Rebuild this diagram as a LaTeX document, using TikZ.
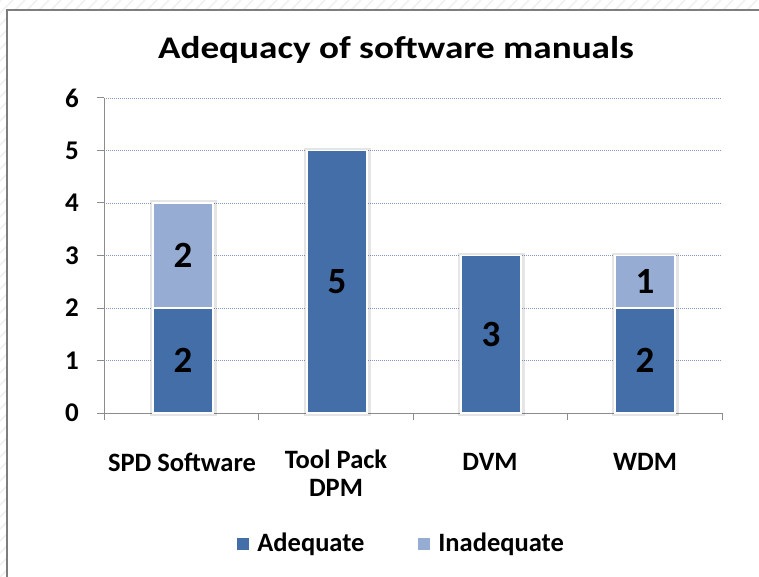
\documentclass[tikz,border=0pt]{standalone}
\usepackage{fontspec}
\setmainfont{Carlito}
\usetikzlibrary{positioning}

\definecolor{adqBlue}{RGB}{67,110,168}
\definecolor{inadqBlue}{RGB}{150,172,211}
\definecolor{gridBlue}{RGB}{135,155,200}
\definecolor{axisGray}{RGB}{140,140,140}
\definecolor{frameGray}{RGB}{125,125,125}

\tikzset{
  seg/.style={rectangle, draw=white, line width=1.5pt, minimum width=60pt, inner sep=0pt,
    font=\fontsize{37}{37}\selectfont\bfseries, text=black},
  adq/.style={seg, fill=adqBlue},
  inadq/.style={seg, fill=inadqBlue},
  barshadow/.style={fill=black, opacity=0.10},
  ylab/.style={font=\fontsize{27}{27}\selectfont\bfseries, inner sep=0pt},
  catlab/.style={font=\fontsize{26.5}{28}\selectfont\bfseries, align=center, inner sep=0pt},
  legsq/.style={rectangle, minimum width=12pt, minimum height=12pt, inner sep=0pt}
}

\begin{document}
\begin{tikzpicture}[x=1pt, y=-1pt]
  \useasboundingbox (0,0) rectangle (759,577);
  \fill[white] (0,0) rectangle (759,577);

  % hatched margin and frame
  \begin{scope}
    \clip (0,0) rectangle (759,9) (0,0) rectangle (6,577);
    \foreach \k in {-600,-588,...,760}
      \draw[black!6, line width=1.5pt] (\k,577) -- (\k+577,0);
  \end{scope}
  \draw[frameGray, line width=2.5pt] (7,577) -- (7,10) -- (759,10);

  \node (title) at (396,50) {\scalebox{1.18}[1]{\fontsize{31.5}{33}\selectfont\bfseries Adequacy of software manuals}};

  % grid and value axis
  \foreach \v in {1,...,6}
    \draw[gridBlue, line width=0.9pt, dash pattern=on 1pt off 1pt] (104,413-52.5*\v) -- (722,413-52.5*\v);
  \foreach \v in {0,...,6} {
    \draw[axisGray, line width=1pt] (97,413-52.5*\v) -- (104,413-52.5*\v);
    \node[ylab] (y\v) at (72,413-52.5*\v) {\v};
  }
  \draw[axisGray, line width=1pt] (104,98) -- (104,413) -- (722,413);
  \foreach \x in {104,258.5,413,567.5,722}
    \draw[axisGray, line width=1pt] (\x,413) -- (\x,420);

  % bar shadows
  \fill[barshadow] (150,200) rectangle (217,416);
  \fill[barshadow] (304,148) rectangle (371,416);
  \fill[barshadow] (458,253) rectangle (525,416);
  \fill[barshadow] (612,253) rectangle (679,416);

  % bars
  \node[adq, minimum height=105pt] (spdAdq) at (183,360.5) {2};
  \node[inadq, minimum height=105pt] (spdInadq) at (183,255.5) {2};
  \node[adq, minimum height=262.5pt] (toolAdq) at (337,281.75) {5};
  \node[adq, minimum height=157.5pt] (dvmAdq) at (491,334.25) {3};
  \node[adq, minimum height=105pt] (wdmAdq) at (645,360.5) {2};
  \node[inadq, minimum height=52.5pt] (wdmInadq) at (645,281.75) {1};

  % category labels
  \node[catlab] (spdLab) at (182,462) {SPD Software};
  \node[catlab, anchor=north] (toolLab) at (336,450) {Tool Pack\\DPM};
  \node[catlab] (dvmLab) at (490,462) {DVM};
  \node[catlab] (wdmLab) at (645,462) {WDM};

  % legend
  \node[legsq, fill=adqBlue] (sqAdq) at (243,544) {};
  \node[catlab, right=8pt of sqAdq] (legAdq) {Adequate};
  \node[legsq, fill=inadqBlue] (sqInadq) at (424,544) {};
  \node[catlab, right=8pt of sqInadq] (legInadq) {Inadequate};
\end{tikzpicture}
\end{document}
